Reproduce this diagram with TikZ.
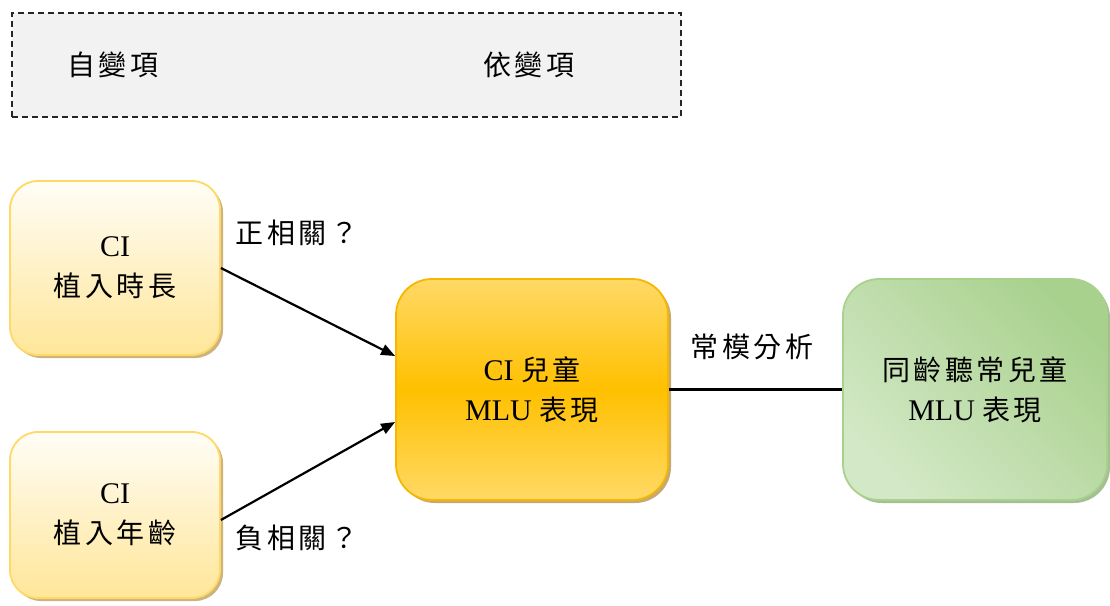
\documentclass[tikz,border=0pt]{standalone}
\usepackage{fontspec}
\setmainfont{Liberation Serif}
\newfontfamily\cjk[LetterSpace=12]{Noto Sans CJK TC}
\newcommand{\cj}[1]{{\fontsize{28}{40}\selectfont\cjk #1}}
\usetikzlibrary{arrows.meta,shadows}
\definecolor{hdrfill}{HTML}{F2F2F2}
\definecolor{ylwborder}{HTML}{FFD966}
\definecolor{ylwlight}{HTML}{FFFDF6}
\definecolor{ylwbottom}{HTML}{FFE699}
\definecolor{gldborder}{HTML}{F5B800}
\definecolor{gldtop}{HTML}{FFD966}
\definecolor{gldmid}{HTML}{FFC000}
\definecolor{grnborder}{HTML}{A9D18E}
\definecolor{grndark}{HTML}{A9D18E}
\definecolor{grnmed}{HTML}{D3E8C6}
\definecolor{grnlight}{HTML}{EAF4E3}
\definecolor{shadowylw}{HTML}{BFA060}
\definecolor{shadowgrn}{HTML}{8FAF78}
\begin{document}
\begin{tikzpicture}[x=1pt,y=-1pt,
  every node/.style={font=\fontsize{30}{40}\selectfont},
  cjkfont/.style={font=\fontsize{28}{40}\selectfont\cjk},
  ivbox/.style={draw=ylwborder, line width=1.8pt, rounded corners=28pt,
    top color=ylwlight, bottom color=ylwbottom, align=center,
    drop shadow={shadow xshift=3pt, shadow yshift=-3pt, fill=shadowylw, opacity=0.8}},
  dvbox/.style={draw=gldborder, line width=1.8pt, rounded corners=36pt,
    top color=gldtop, bottom color=gldtop, middle color=gldmid, align=center,
    drop shadow={shadow xshift=3pt, shadow yshift=-3pt, fill=shadowylw, opacity=0.9}},
  refbox/.style={draw=grnborder, line width=1.8pt, rounded corners=36pt,
    left color=grndark, middle color=grnlight, right color=grnmed, shading angle=-45, align=center,
    drop shadow={shadow xshift=3pt, shadow yshift=-3pt, fill=shadowgrn, opacity=0.8}},
  conn/.style={line width=2.2pt, black},
  arr/.style={conn, -{Triangle[length=14pt,width=11pt]}},
  lbl/.style={inner sep=0pt, cjkfont}
]
\useasboundingbox (0,0) rectangle (1110,605);
% header
\node[draw=black!85, dashed, dash pattern=on 6pt off 4pt, line width=1.4pt, fill=hdrfill,
  minimum width=669pt, minimum height=104pt, inner sep=0pt] (hdrbox) at (346.5,65) {};
\node[lbl] (iv) at (113,65) {自變項};
\node[lbl] (dv) at (529,65) {依變項};
% boxes
\node[ivbox, minimum width=210pt, minimum height=174pt] (b1) at (115,268) {CI\\\cj{植入時長}};
\node[ivbox, minimum width=210pt, minimum height=166pt] (b2) at (115,515) {CI\\\cj{植入年齡}};
\node[dvbox, minimum width=272pt, minimum height=221pt] (c) at (532,389.5) {CI \cj{兒童}\\MLU \cj{表現}};
\node[refbox, minimum width=264pt, minimum height=221pt] (r) at (975,389.5) {\cj{同齡聽常兒童}\\MLU \cj{表現}};
% connectors
\draw[arr] (b1.east) -- ([yshift=33.5pt]c.west);
\draw[arr] ([yshift=-5pt]b2.east) -- ([yshift=-32.5pt]c.west);
\draw[conn] (c.east) -- (r.west);
% labels
\node[lbl] (l1) at (297,233) {正相關？};
\node[lbl] (l2) at (297,538) {負相關？};
\node[lbl] (l3) at (752,347) {常模分析};
\end{tikzpicture}
\end{document}
